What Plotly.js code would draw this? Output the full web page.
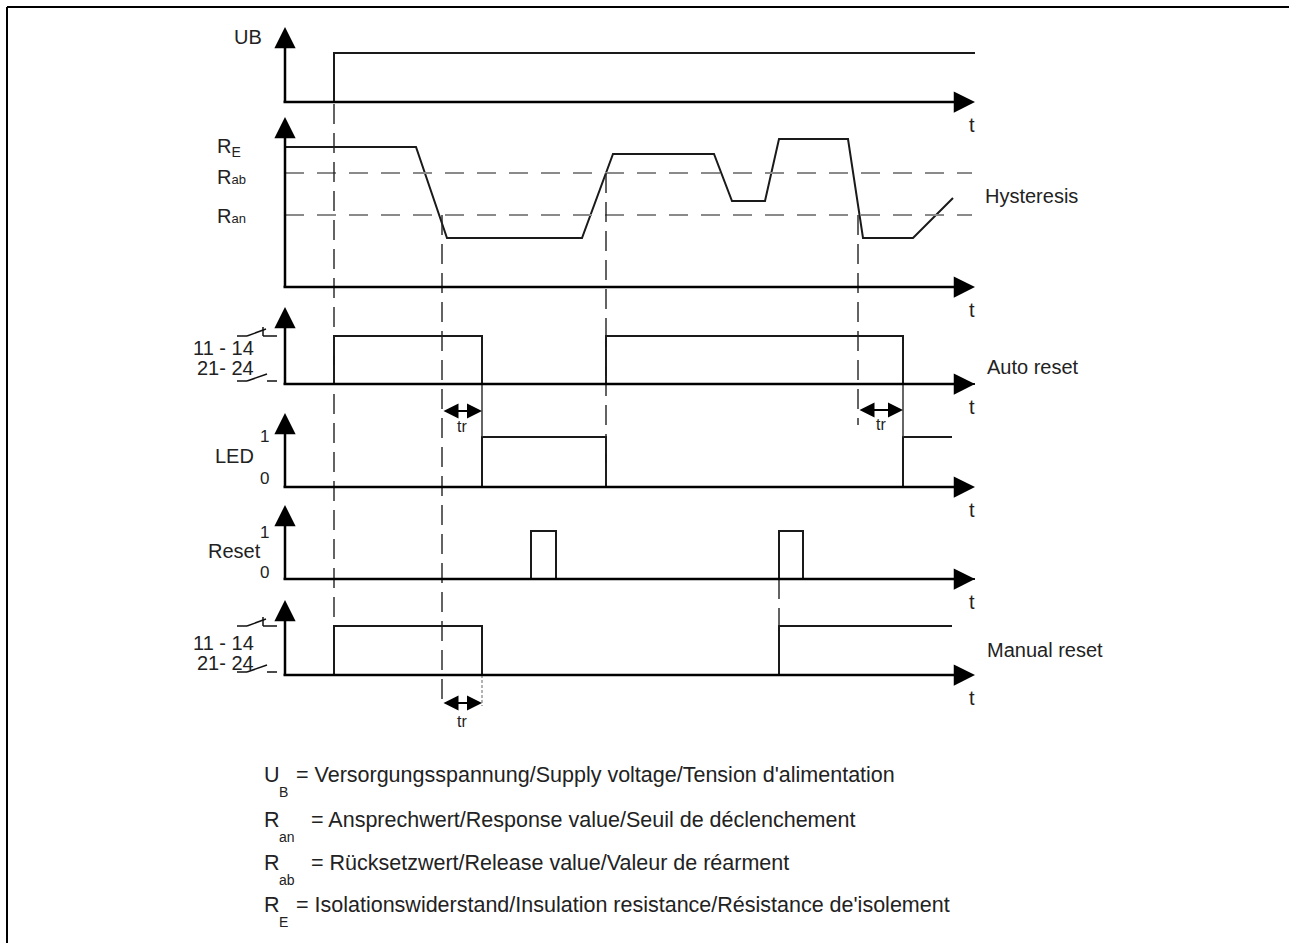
<!DOCTYPE html>
<html><head><meta charset="utf-8">
<script src="https://cdn.plot.ly/plotly-3.0.1.min.js"></script>
<style>html,body{margin:0;padding:0;background:#fff;}</style>
</head><body><div id="chart" style="width:1289px;height:943px;"></div>
<script>
// ---------------- DATA (time in units from the time origin) ----------------
const ubTime = [0, 49, 690];
const ubLevel = [0, 1, 1];
const reTime = [0, 131, 162, 297, 328, 429, 447, 480, 494, 563, 578, 628, 668];
const reValue = [140, 140, 49, 49, 133, 133, 86, 86, 148, 148, 49, 49, 89];
const thresholdNames = ['R_ab', 'R_an'];
const thresholdValues = [114, 72];
const autoTime = [0, 49, 197, 321, 618, 690];
const autoLevel = [0, 1, 0, 1, 0, 0];
const ledTime = [0, 197, 321, 618, 667];
const ledLevel = [0, 1, 0, 1, 1];
const resetTime = [0, 246, 271, 494, 518, 690];
const resetLevel = [0, 1, 0, 1, 0, 0];
const manualTime = [0, 49, 197, 494, 667];
const manualLevel = [0, 1, 0, 1, 1];
const tripTime = [157, 573];      // R_E drops below R_an
const trDelay = [40, 45];         // release delay tr
const releaseTime = [321];        // R_E rises above R_ab
const tEnd = 690;

const legendSymbols = [['U', 'B'], ['R', 'an'], ['R', 'ab'], ['R', 'E']];
const legendTexts = [
  "= Versorgungsspannung/Supply voltage/Tension d'alimentation",
  "= Ansprechwert/Response value/Seuil de déclenchement",
  "= Rücksetzwert/Release value/Valeur de réarment",
  "= Isolationswiderstand/Insulation resistance/Résistance de'isolement"
];

// ---------------- LAYOUT HELPERS ----------------
const W = 1289, H = 943, X0 = 285;
const FONT = 'Liberation Sans, Arial, Helvetica, sans-serif';
const PX = p => p / W;
const PY = p => 1 - p / H;
// B = baseline pixel, h = pixels per unit, top = arrow tip, band = [top,bottom] of subplot
const panels = {
  ub:     {axis: 'y',  B: 102, h: 49, top: 27,  band: [15, 112]},
  re:     {axis: 'y2', B: 287, h: 1,  top: 117, band: [112, 297]},
  auto:   {axis: 'y3', B: 384, h: 48, top: 307, band: [297, 392]},
  led:    {axis: 'y4', B: 487, h: 50, top: 413, band: [392, 496]},
  reset:  {axis: 'y5', B: 579, h: 48, top: 505, band: [496, 588]},
  manual: {axis: 'y6', B: 675, h: 49, top: 600, band: [588, 690]}
};
const lvl = (p, v) => panels[p].B - v * panels[p].h; // pixel y of a level

const layout = {
  width: W, height: H, margin: {l: 0, r: 0, t: 0, b: 0},
  paper_bgcolor: '#fff', plot_bgcolor: 'rgba(0,0,0,0)', showlegend: false,
  xaxis: {range: [-X0, W - X0], visible: false, fixedrange: true, anchor: 'y'},
  shapes: [], annotations: []
};
Object.values(panels).forEach(p => {
  const key = 'yaxis' + p.axis.slice(1);
  layout[key] = {
    domain: [PY(p.band[1]), PY(p.band[0])],
    range: [(p.B - p.band[1]) / p.h, (p.B - p.band[0]) / p.h],
    anchor: 'x', visible: false, fixedrange: true
  };
});

const traces = [];
const sig = (x, y, p, shape) => traces.push({
  x: x, y: y, xaxis: 'x', yaxis: panels[p].axis, type: 'scatter', mode: 'lines',
  line: {color: '#1a1a1a', width: 2, shape: shape || 'hv'}, hoverinfo: 'skip'
});
sig(ubTime, ubLevel, 'ub');
sig(reTime, reValue, 're', 'linear');
thresholdValues.forEach(v => traces.push({
  x: [0, tEnd - 3], y: [v, v], xaxis: 'x', yaxis: panels.re.axis, type: 'scatter', mode: 'lines',
  line: {color: '#8a8a8a', width: 2, dash: '19px,13px'}, hoverinfo: 'skip'
}));
sig(autoTime, autoLevel, 'auto');
sig(ledTime, ledLevel, 'led');
sig(resetTime, resetLevel, 'reset');
sig(manualTime, manualLevel, 'manual');

// axes with arrows
const ann = a => layout.annotations.push(Object.assign({showarrow: false, xanchor: 'center', yanchor: 'middle',
  font: {family: FONT, size: 20, color: '#222'}}, a));
Object.keys(panels).forEach(k => {
  const p = panels[k];
  ann({xref: 'x', yref: 'paper', x: 0, y: PY(p.top), text: '', showarrow: true,
       ax: 0, ay: p.B - p.top + 1, axref: 'pixel', ayref: 'pixel',
       arrowhead: 2, arrowsize: 1.7, arrowwidth: 2.5, arrowcolor: '#000', standoff: 0});
  ann({xref: 'x', yref: 'paper', x: tEnd, y: PY(p.B), text: '', showarrow: true,
       ax: -(tEnd + 3), ay: 0, axref: 'pixel', ayref: 'pixel',
       arrowhead: 2, arrowsize: 1.7, arrowwidth: 2.5, arrowcolor: '#000', standoff: 0});
  ann({xref: 'paper', yref: 'paper', x: PX(972), y: PY(p.B + 23), text: 't'});
});

// dashed event lines
const vline = (t, y0, y1, opts) => layout.shapes.push({type: 'line', xref: 'x', yref: 'paper',
  x0: t, x1: t, y0: PY(y0), y1: PY(y1), line: Object.assign({color: '#222', width: 1.4, dash: '20px,9px'}, opts || {})});
vline(ubTime[1], lvl('ub', 0) + 2, lvl('manual', 1));
vline(tripTime[0], lvl('re', thresholdValues[1]), 706);
vline(releaseTime[0], lvl('re', thresholdValues[0]), lvl('led', 0));
vline(tripTime[1], lvl('re', thresholdValues[1]), 425);
vline(resetTime[3], lvl('reset', 0), lvl('manual', 1));
vline(tripTime[0] + trDelay[0], lvl('manual', 0), 706, {color: '#666', width: 1, dash: '3px,2px'});
vline(tripTime[0] + trDelay[0], lvl('auto', 0), lvl('led', 1), {color: '#333', width: 1.5, dash: 'solid'});
vline(tripTime[1] + trDelay[1], lvl('auto', 0), lvl('led', 1), {color: '#333', width: 1.5, dash: 'solid'});

// tr arrows
const trArrow = (t0, d, y, ty) => {
  ann({xref: 'x', yref: 'paper', x: t0 + d, y: PY(y), text: '', showarrow: true,
       ax: -d, ay: 0, axref: 'pixel', ayref: 'pixel', arrowside: 'end+start',
       arrowhead: 2, startarrowhead: 2, arrowsize: 1.5, startarrowsize: 1.5,
       arrowwidth: 2, arrowcolor: '#000', standoff: 0, startstandoff: 0});
  ann({xref: 'x', yref: 'paper', x: t0 + d / 2, y: PY(ty), text: 'tr', font: {family: FONT, size: 16, color: '#222'}});
};
trArrow(tripTime[0], trDelay[0], 411, 426);
trArrow(tripTime[1], trDelay[1], 410, 425);
trArrow(tripTime[0], trDelay[0], 703, 721);

// switch-contact symbols
const seg = (x0, y0, x1, y1) => layout.shapes.push({type: 'line', xref: 'paper', yref: 'paper',
  x0: PX(x0), y0: PY(y0), x1: PX(x1), y1: PY(y1), line: {color: '#111', width: 1.5}});
const contactLabelY = {auto: [348, 368], manual: [643, 663]};
['auto', 'manual'].forEach(k => {
  const u = lvl(k, 1), l = lvl(k, 0) - 3;
  seg(237, u, 247, u); seg(247, u, 266, u - 7); seg(263, u - 9, 263, u); seg(263, u, 277, u);
  seg(237, l, 247, l); seg(247, l, 267, l - 7); seg(267, l, 277, l);
  ann({xref: 'paper', yref: 'paper', x: PX(256), y: PY(contactLabelY[k][0]), text: '11 - 14', xanchor: 'right'});
  ann({xref: 'paper', yref: 'paper', x: PX(256), y: PY(contactLabelY[k][1]), text: '21- 24', xanchor: 'right'});
});

// panel labels
const lab = (x, y, text, xa, size) => ann({xref: 'paper', yref: 'paper', x: PX(x), y: PY(y), text: text,
  xanchor: xa || 'center', yanchor: 'middle', font: {family: FONT, size: size || 20, color: '#222'}});
lab(248, 37, 'UB');
lab(215, 147, 'R<sub>E</sub>', 'left');
lab(215, 177, 'R<span style="font-size:13px">ab</span>', 'left');
lab(215, 216, 'R<span style="font-size:13px">an</span>', 'left');
lab(983, 196, 'Hysteresis', 'left');
lab(985, 367, 'Auto reset', 'left');
lab(985, 650, 'Manual reset', 'left');
lab(234, 456, 'LED');
lab(234, 551, 'Reset');
lab(264, 437, '1', 'center', 17); lab(264, 478, '0', 'center', 17);
lab(264, 532, '1', 'center', 17); lab(264, 572, '0', 'center', 17);

// legend
const legY = [775, 820, 863, 905];
legendSymbols.forEach((s, i) => {
  lab(262, legY[i], s[0], 'left', 21.5);
  lab(277, legY[i] + 17, s[1], 'left', 14);
  lab(s[1].length > 1 ? 309 : 294, legY[i], legendTexts[i], 'left', 21.5);
});

// frame
layout.shapes.push({type: 'line', xref: 'paper', yref: 'paper', x0: PX(7), x1: PX(7), y0: 0, y1: PY(7), line: {color: '#000', width: 2}});
layout.shapes.push({type: 'line', xref: 'paper', yref: 'paper', x0: PX(7), x1: 1, y0: PY(7), y1: PY(7), line: {color: '#000', width: 2}});

Plotly.newPlot('chart', traces, layout, {displayModeBar: false, staticPlot: true});
</script></body></html>
